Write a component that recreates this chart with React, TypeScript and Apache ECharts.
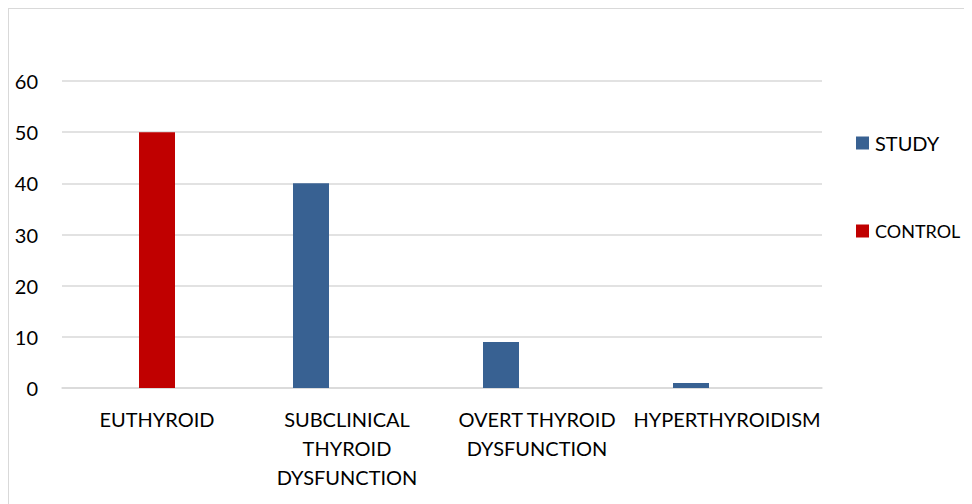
import React, { useEffect, useRef } from "react";
import * as echarts from "echarts";

const categories = ["EUTHYROID", "SUBCLINICAL THYROID DYSFUNCTION", "OVERT THYROID DYSFUNCTION", "HYPERTHYROIDISM"];
const tickLabels = ["EUTHYROID", "SUBCLINICAL\nTHYROID\nDYSFUNCTION", "OVERT THYROID\nDYSFUNCTION", "HYPERTHYROIDISM"];
const studyValues = [0, 40, 9, 1];
const controlValues = [50, 0, 0, 0];
const spacerValues = [0, 0, 0, 0];

const FONT = "Lato";

export default function App() {
  const ref = useRef<HTMLDivElement>(null);
  useEffect(() => {
    const chart = echarts.init(ref.current!, null, { renderer: "svg" });
    chart.setOption({
      animation: false,
      textStyle: { fontFamily: FONT },
      grid: { left: 53, top: 72, width: 760, height: 307 },
      legend: [
        {
          data: ["STUDY"],
          left: 842,
          top: 119,
          itemWidth: 13,
          itemHeight: 13,
          icon: "rect",
          textStyle: { fontFamily: FONT, fontSize: 20, color: "#000", padding: [0, 0, 0, 1] },
        },
        {
          data: ["CONTROL"],
          left: 842,
          top: 208,
          itemWidth: 13,
          itemHeight: 13,
          icon: "rect",
          textStyle: { fontFamily: FONT, fontSize: 18, color: "#000", padding: [0, 0, 0, 1] },
        },
      ],
      xAxis: {
        type: "category",
        data: categories,
        axisLine: { lineStyle: { color: "#d9d9d9", width: 1.5 } },
        axisTick: { show: false },
        axisLabel: {
          interval: 0,
          margin: 16,
          fontFamily: FONT,
          fontSize: 20,
          lineHeight: 29,
          color: "#000",
          formatter: (_v: string, i: number) => tickLabels[i],
        },
      },
      yAxis: {
        type: "value",
        min: 0,
        max: 60,
        interval: 10,
        axisLine: { show: false },
        axisTick: { show: false },
        splitLine: { lineStyle: { color: "#d9d9d9", width: 1.5 } },
        axisLabel: { margin: 24, fontFamily: FONT, fontSize: 20, color: "#000" },
      },
      series: [
        { name: "STUDY", type: "bar", data: studyValues, barWidth: 36, barGap: "0%", itemStyle: { color: "#386192" } },
        { name: "CONTROL", type: "bar", data: controlValues, barWidth: 36, barGap: "0%", itemStyle: { color: "#C00000" } },
        { name: "spacer", type: "bar", data: spacerValues, barWidth: 36, barGap: "0%", itemStyle: { color: "transparent" } },
      ],
    });
    return () => chart.dispose();
  }, []);
  return (
    <div style={{ width: 964, height: 500, border: "1px solid #d9d9d9", boxSizing: "border-box" }}>
      <div ref={ref} style={{ width: 962, height: 498 }} />
    </div>
  );
}
